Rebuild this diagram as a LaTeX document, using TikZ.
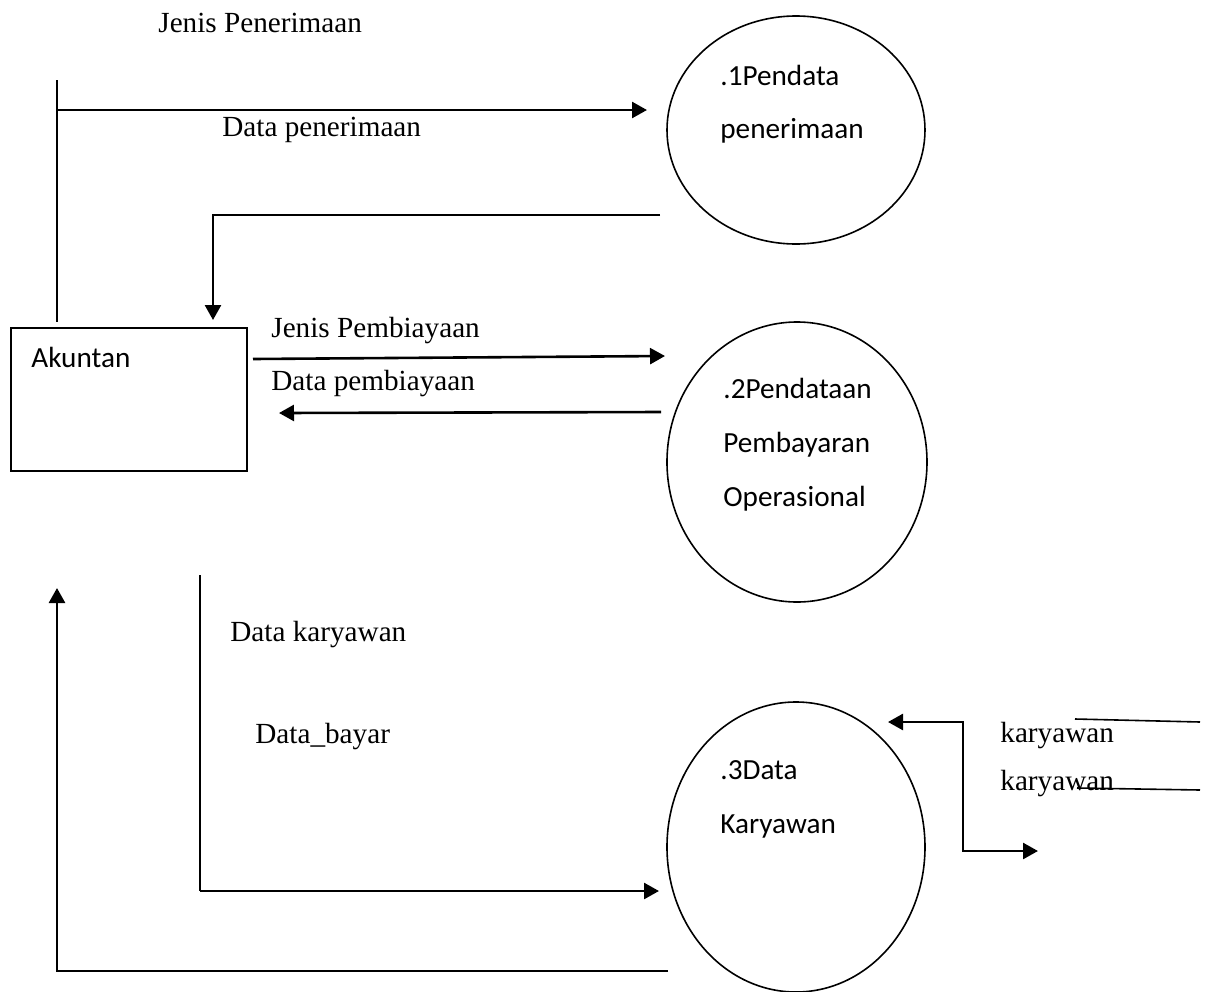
\documentclass[tikz,border=0pt]{standalone}
\usepackage{fontspec}
\setmainfont{Liberation Serif}
\newfontfamily\calibri{Carlito}
\usetikzlibrary{arrows.meta,shapes.geometric}
\tikzset{
  flow/.style={line width=1.3pt,-{Triangle[length=7.5pt,width=8pt]}},
  plain/.style={line width=0.8pt},
  proses/.style={draw,ellipse,line width=0.8pt,inner sep=0pt},
  lbl/.style={anchor=base west,inner sep=0pt,font=\fontsize{14.6}{17}\selectfont},
  clbl/.style={lbl,font=\fontsize{14.6}{17}\selectfont\calibri}
}
\begin{document}
\begin{tikzpicture}[x=0.5pt,y=-0.5pt]
\useasboundingbox (0,0) rectangle (1207,992);

% entitas dan proses
\node[draw,plain,minimum width=118pt,minimum height=71.5pt] (akuntan) at (129,399.5) {};
\node[clbl] (tAk) at (31,367) {Akuntan};

\node[proses,minimum width=129pt,minimum height=114pt] (p1) at (796,130) {};
\node[clbl] (t1a) at (720,85) {.1Pendata};
\node[clbl] (t1b) at (720,138) {penerimaan};

\node[proses,minimum width=130pt,minimum height=140pt] (p2) at (797,462) {};
\node[clbl] (t2a) at (723,398) {.2Pendataan};
\node[clbl] (t2b) at (723,452) {Pembayaran};
\node[clbl] (t2c) at (723,506) {Operasional};

\node[proses,minimum width=129pt,minimum height=145pt] (p3) at (796,847) {};
\node[clbl] (t3a) at (720,779) {.3Data};
\node[clbl] (t3b) at (720,833) {Karyawan};

% label aliran
\node[lbl] (lJP) at (158,32) {Jenis Penerimaan};
\node[lbl] (lDP) at (222,136) {Data penerimaan};
\node[lbl] (lJB) at (271,337) {Jenis Pembiayaan};
\node[lbl] (lDB) at (271,390) {Data pembiayaan};
\node[lbl] (lDK) at (230,641) {Data karyawan};
\node[lbl] (lBy) at (255,743) {Data\_bayar};
\node[lbl] (lK1) at (1000,742) {karyawan};
\node[lbl] (lK2) at (1000,790) {karyawan};

% titik ujung
\coordinate (a1) at (57,80);
\coordinate (a2) at (57,322);
\coordinate (a3) at (57,110);
\coordinate (a4) at (647,110);
\coordinate (b1) at (660,215);
\coordinate (b2) at (213,215);
\coordinate (b3) at (213,320);
\coordinate (c1) at (253,359);
\coordinate (c2) at (665,356);
\coordinate (c3) at (661,412);
\coordinate (c4) at (279,413);
\coordinate (d1) at (200,575);
\coordinate (d2) at (200,891);
\coordinate (d3) at (659,891);
\coordinate (e1) at (668,971);
\coordinate (e2) at (57,971);
\coordinate (e3) at (57,588);
\coordinate (f1) at (888,722);
\coordinate (f2) at (963,722);
\coordinate (f3) at (963,851);
\coordinate (f4) at (1038,851);
\coordinate (g1) at (1075,719);
\coordinate (g2) at (1200,722);
\coordinate (g3) at (1077,788);
\coordinate (g4) at (1200,790);

% aliran
\draw[plain] (a1) -- (a2);
\draw[flow] (a3) -- (a4);
\draw[flow] (b1) -- (b2) -- (b3);
\draw[flow] (c1) -- (c2);
\draw[flow] (c3) -- (c4);
\draw[plain] (d1) -- (d2);
\draw[flow] (d2) -- (d3);
\draw[flow] (e1) -- (e2) -- (e3);
\draw[flow,{Triangle[length=7.5pt,width=8pt]}-{Triangle[length=7.5pt,width=8pt]}] (f1) -- (f2) -- (f3) -- (f4);
\draw[plain] (g1) -- (g2);
\draw[plain] (g3) -- (g4);
\end{tikzpicture}
\end{document}
